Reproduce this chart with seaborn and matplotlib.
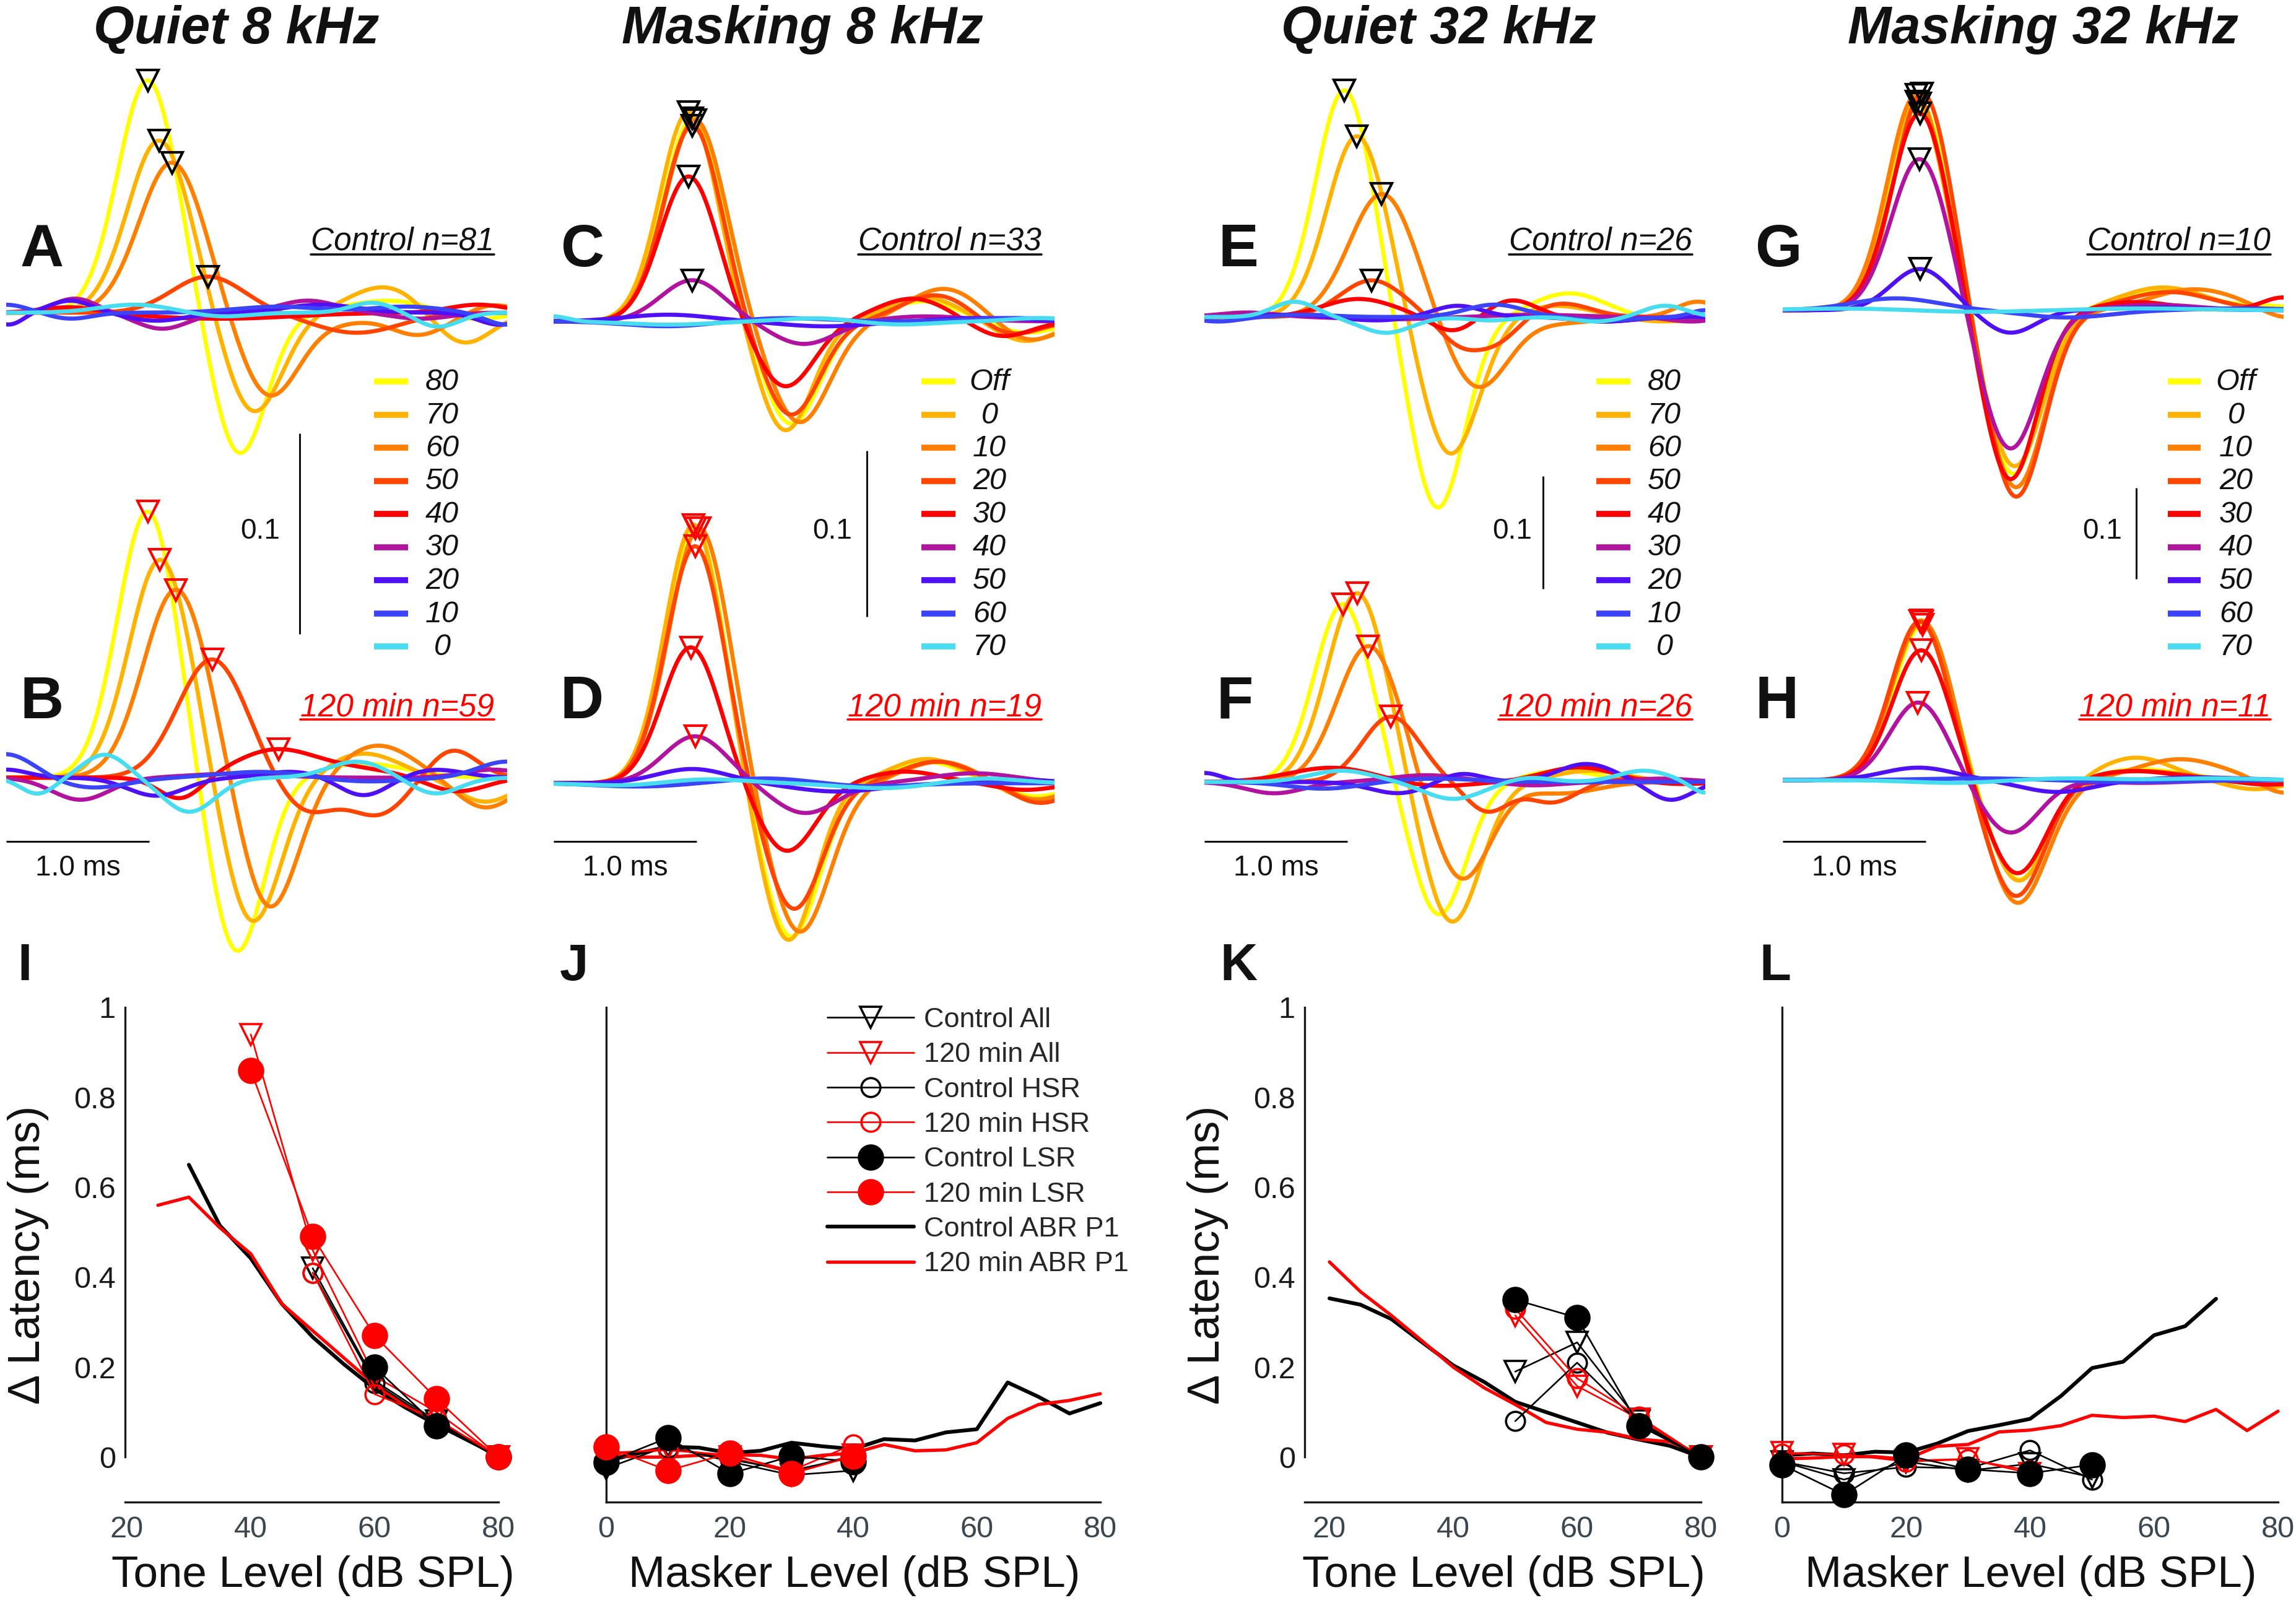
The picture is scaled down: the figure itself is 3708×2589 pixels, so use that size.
import numpy as np
import pandas as pd
import matplotlib
matplotlib.use("Agg")
import matplotlib.pyplot as plt
from matplotlib.lines import Line2D
import seaborn as sns

# ---------------- data ----------------
quiet_levels = ["80", "70", "60", "50", "40", "30", "20", "10", "0"]
mask_levels = ["Off", "0", "10", "20", "30", "40", "50", "60", "70"]
level_colors = ["#FFFF00", "#FFB300", "#FF7F00", "#FF4500", "#FF0000",
                "#B2139E", "#5010F5", "#3B44F6", "#48DCF0"]

col_titles = ["Quiet 8 kHz", "Masking 8 kHz", "Quiet 32 kHz", "Masking 32 kHz"]
n_control = [81, 33, 26, 10]
n_120min = [59, 19, 26, 11]
marked_control = [4, 6, 4, 7]
marked_120min = [5, 6, 4, 6]

# ABR waveform components per level: (latency ms, amplitude, width ms); first = P1
wave_A = [
    [(0.99, 0.116, 0.21), (1.63, -0.071, 0.19), (2.68, 0.006, 0.30), (3.25, -0.004, 0.2)],
    [(1.07, 0.086, 0.22), (1.73, -0.050, 0.20), (2.65, 0.013, 0.25), (3.19, -0.016, 0.2)],
    [(1.16, 0.075, 0.23), (1.84, -0.042, 0.21), (2.35, -0.004, 0.2), (2.88, -0.011, 0.2), (3.4, 0.004, 0.15)],
    [(1.41, 0.018, 0.25), (2.45, -0.010, 0.30)],
    [(0.45, 0.003, 0.2), (1.5, -0.003, 0.5), (3.3, 0.004, 0.2)],
    [(0.48, 0.007, 0.15), (1.09, -0.008, 0.18), (2.11, 0.006, 0.2), (2.9, -0.003, 0.2)],
    [(0.02, -0.006, 0.1), (0.45, 0.006, 0.15), (1.05, -0.004, 0.2), (2.2, 0.004, 0.25), (3.45, -0.006, 0.15)],
    [(0.0, 0.004, 0.15), (0.45, -0.003, 0.15), (1.9, 0.003, 0.3), (2.8, 0.003, 0.25), (3.5, -0.006, 0.15)],
    [(0.9, 0.004, 0.25), (1.5, -0.002, 0.2), (2.56, 0.005, 0.15), (3.02, -0.007, 0.15)],
]
wave_B = [
    [(0.99, 0.133, 0.21), (1.61, -0.088, 0.19), (2.5, 0.007, 0.3)],
    [(1.08, 0.109, 0.22), (1.72, -0.073, 0.20), (2.5, 0.012, 0.25), (3.35, -0.012, 0.2)],
    [(1.19, 0.094, 0.23), (1.84, -0.066, 0.20), (2.6, 0.016, 0.25), (3.35, -0.015, 0.2)],
    [(1.44, 0.059, 0.24), (2.1, -0.017, 0.2), (2.6, -0.018, 0.2), (3.12, 0.014, 0.17)],
    [(1.88, 0.0135, 0.28), (1.22, -0.011, 0.15), (2.45, 0.004, 0.3), (3.15, -0.007, 0.2)],
    [(0.52, -0.011, 0.2), (1.6, 0.002, 0.3), (3.4, 0.004, 0.2)],
    [(0.0, 0.004, 0.15), (1.05, -0.009, 0.2), (2.0, 0.003, 0.2), (2.5, -0.009, 0.17), (3.0, 0.004, 0.2)],
    [(0.0, 0.012, 0.2), (0.6, -0.005, 0.25), (1.8, 0.003, 0.3), (2.5, -0.002, 0.3), (3.5, 0.008, 0.2)],
    [(0.22, -0.008, 0.12), (0.69, 0.0115, 0.15), (1.28, -0.017, 0.18), (2.45, 0.008, 0.2), (3.0, -0.008, 0.17)],
]
wave_C = [
    [(0.97, 0.1225, 0.2), (1.66, -0.062, 0.2), (2.58, 0.012, 0.25), (3.3, -0.007, 0.2)],
    [(0.945, 0.1264, 0.2), (1.62, -0.066, 0.19), (2.58, 0.0146, 0.25), (3.3, -0.012, 0.2)],
    [(0.99, 0.1216, 0.21), (1.72, -0.061, 0.21), (2.73, 0.0197, 0.25), (3.32, -0.012, 0.2)],
    [(0.97, 0.118, 0.2), (1.66, -0.0565, 0.2), (2.68, 0.016, 0.25), (3.18, -0.009, 0.2)],
    [(0.945, 0.0874, 0.2), (1.62, -0.0394, 0.2), (2.51, 0.0137, 0.25), (3.13, -0.0094, 0.2)],
    [(0.97, 0.0248, 0.22), (1.75, -0.0137, 0.22), (2.6, 0.003, 0.3)],
    [(0.8, 0.004, 0.3), (1.9, -0.003, 0.3), (3.0, 0.002, 0.3)],
    [(0.8, -0.003, 0.3), (1.6, 0.002, 0.3), (3.2, 0.002, 0.3)],
    [(0.0, 0.003, 0.1), (0.8, -0.002, 0.3), (1.85, 0.002, 0.25), (2.4, -0.002, 0.25), (3.4, 0.002, 0.2)],
]
wave_D = [
    [(0.99, 0.154, 0.2), (1.66, -0.093, 0.2), (2.6, 0.013, 0.25), (3.37, -0.008, 0.2)],
    [(0.98, 0.156, 0.2), (1.64, -0.095, 0.19), (2.61, 0.0146, 0.25), (3.37, -0.01, 0.2)],
    [(1.02, 0.154, 0.21), (1.72, -0.090, 0.21), (2.70, 0.013, 0.25), (3.37, -0.01, 0.2)],
    [(0.99, 0.143, 0.2), (1.68, -0.076, 0.2), (2.68, 0.013, 0.25), (3.4, -0.012, 0.2)],
    [(0.96, 0.082, 0.2), (1.63, -0.041, 0.2), (2.46, 0.007, 0.25), (3.3, -0.004, 0.2)],
    [(0.99, 0.0283, 0.22), (1.76, -0.018, 0.22), (2.94, 0.006, 0.3)],
    [(0.97, 0.0086, 0.25), (1.99, -0.005, 0.3), (3.3, 0.002, 0.2)],
    [(0.6, -0.002, 0.3), (1.5, 0.003, 0.3), (2.2, -0.002, 0.3)],
    [(0.6, -0.002, 0.3), (1.0, 0.003, 0.3), (2.3, -0.003, 0.3), (3.0, 0.003, 0.25)],
]
wave_E = [
    [(0.98, 0.2016, 0.2), (1.63, -0.170, 0.19), (2.55, 0.021, 0.25), (3.3, -0.004, 0.2)],
    [(1.07, 0.161, 0.21), (1.72, -0.1226, 0.2), (2.45, 0.01, 0.25), (3.2, -0.004, 0.2)],
    [(1.245, 0.1095, 0.23), (1.91, -0.0633, 0.21), (2.5, -0.005, 0.25), (3.45, 0.0136, 0.15)],
    [(1.17, 0.0325, 0.22), (1.79, -0.023, 0.15), (2.05, -0.02, 0.15), (2.5, 0.012, 0.2)],
    [(1.08, 0.016, 0.25), (1.74, -0.013, 0.15), (2.15, 0.015, 0.17), (2.8, -0.004, 0.2)],
    [(0.3, 0.004, 0.2), (1.3, -0.002, 0.3), (2.3, 0.002, 0.3), (3.4, -0.004, 0.15)],
    [(0.6, 0.002, 0.2), (1.2, -0.003, 0.2), (1.77, 0.010, 0.17), (2.8, -0.004, 0.2)],
    [(0.1, -0.004, 0.15), (0.7, 0.002, 0.2), (2.03, 0.011, 0.2), (2.8, -0.003, 0.2), (3.5, 0.006, 0.1)],
    [(0.63, 0.0136, 0.15), (1.27, -0.014, 0.18), (2.0, -0.003, 0.15), (2.74, -0.004, 0.15), (3.22, 0.010, 0.15)],
]
wave_F = [
    [(0.97, 0.158, 0.2), (1.64, -0.118, 0.19), (2.5, 0.01, 0.25)],
    [(1.07, 0.168, 0.21), (1.73, -0.125, 0.2), (2.7, 0.01, 0.25)],
    [(1.15, 0.121, 0.22), (1.80, -0.087, 0.2), (2.5, -0.01, 0.25)],
    [(1.305, 0.058, 0.2), (1.98, -0.026, 0.15), (2.43, -0.018, 0.17), (3.0, 0.003, 0.2)],
    [(0.89, 0.0127, 0.3), (1.6, -0.004, 0.25), (2.62, 0.013, 0.25), (3.3, -0.002, 0.2)],
    [(0.49, -0.01, 0.2), (1.55, 0.006, 0.25), (2.3, -0.003, 0.2), (3.2, 0.003, 0.2)],
    [(0.0, 0.008, 0.12), (1.36, -0.010, 0.2), (1.79, 0.008, 0.15), (2.67, 0.016, 0.2), (3.26, -0.016, 0.15)],
    [(0.84, -0.006, 0.25), (1.6, 0.003, 0.3), (2.5, 0.0, 0.3)],
    [(0.96, 0.010, 0.22), (1.74, -0.015, 0.2), (2.27, 0.004, 0.15), (3.07, 0.010, 0.18), (3.5, -0.01, 0.1)],
]
wave_G = [
    [(0.96, 0.228, 0.2), (1.61, -0.181, 0.19), (2.66, 0.022, 0.3), (3.4, 0.004, 0.2)],
    [(0.935, 0.2295, 0.2), (1.62, -0.172, 0.2), (2.66, 0.025, 0.3)],
    [(0.935, 0.237, 0.2), (1.63, -0.195, 0.2), (2.88, 0.023, 0.3), (3.5, -0.01, 0.15)],
    [(0.98, 0.239, 0.2), (1.63, -0.206, 0.2), (2.7, 0.02, 0.3)],
    [(0.96, 0.217, 0.2), (1.59, -0.187, 0.19), (2.47, 0.009, 0.25), (3.5, 0.014, 0.15)],
    [(0.96, 0.167, 0.2), (1.59, -0.153, 0.2), (2.6, 0.006, 0.3)],
    [(0.96, 0.0453, 0.2), (1.59, -0.025, 0.18), (2.6, 0.003, 0.3)],
    [(0.79, 0.013, 0.3), (1.99, -0.008, 0.3), (3.2, 0.002, 0.3)],
    [(0.5, 0.002, 0.4), (1.3, -0.002, 0.4), (2.5, 0.002, 0.4)],
]
wave_H = [
    [(0.98, 0.171, 0.2), (1.65, -0.110, 0.2), (2.5, 0.012, 0.3)],
    [(0.97, 0.176, 0.2), (1.65, -0.111, 0.2), (2.47, 0.0247, 0.25), (3.3, -0.01, 0.2)],
    [(0.98, 0.175, 0.21), (1.64, -0.136, 0.21), (2.78, 0.023, 0.3), (3.5, -0.015, 0.15)],
    [(0.96, 0.175, 0.2), (1.63, -0.128, 0.2), (2.5, 0.01, 0.3)],
    [(0.97, 0.143, 0.2), (1.64, -0.103, 0.2), (2.45, 0.01, 0.3), (3.4, -0.005, 0.2)],
    [(0.95, 0.0856, 0.2), (1.59, -0.058, 0.2), (2.5, -0.003, 0.3)],
    [(0.95, 0.0137, 0.25), (1.92, -0.013, 0.25), (2.9, 0.003, 0.3)],
    [(1.4, 0.002, 0.4), (2.4, -0.002, 0.4)],
    [(1.2, -0.003, 0.3), (2.0, 0.002, 0.3), (3.0, 0.002, 0.3)],
]

# delta latency panels (ms) vs level (dB SPL)
I_abr_ctrl_x = [30, 35, 40, 45, 50, 55, 60, 65, 70, 75, 80]
I_abr_ctrl = [0.65, 0.515, 0.442, 0.341, 0.267, 0.207, 0.152, 0.11, 0.072, 0.04, 0.0]
I_abr_120_x = [25, 30, 35, 40, 45, 50, 55, 60, 65, 70, 75, 80]
I_abr_120 = [0.56, 0.578, 0.51, 0.452, 0.341, 0.281, 0.221, 0.161, 0.115, 0.08, 0.04, 0.0]
I_x_ctrl = [50, 60, 70, 80]
I_ctrl_all = [0.42, 0.17, 0.08, 0.0]
I_ctrl_hsr = [0.41, 0.165, 0.075, 0.0]
I_x_ctrl_lsr = [60, 70, 80]
I_ctrl_lsr = [0.20, 0.07, 0.0]
I_x_120 = [40, 50, 60, 70, 80]
I_120_all = [0.94, 0.46, 0.18, 0.10, 0.0]
I_x_120_hsr = [50, 60, 70, 80]
I_120_hsr = [0.41, 0.14, 0.085, 0.0]
I_120_lsr = [0.86, 0.49, 0.27, 0.13, 0.0]

J_abr_x = [0, 5, 10, 15, 20, 25, 30, 35, 40, 45, 50, 55, 60, 65, 70, 75, 80]
J_abr_ctrl = [-0.009, 0.008, 0.023, 0.021, 0.009, 0.014, 0.032, 0.024, 0.018, 0.04,
              0.037, 0.055, 0.062, 0.166, 0.134, 0.097, 0.12]
J_abr_120 = [0.005, 0.0, 0.0, 0.004, 0.005, 0.004, -0.005, 0.004, 0.009, 0.028,
             0.014, 0.016, 0.032, 0.086, 0.117, 0.126, 0.141]
J_x = [0, 10, 20, 30, 40]
J_ctrl_all = [-0.025, 0.025, -0.01, -0.04, -0.03]
J_ctrl_hsr = [-0.005, 0.02, -0.005, -0.03, 0.0]
J_ctrl_lsr = [-0.012, 0.043, -0.037, 0.002, -0.01]
J_120_all = [0.005, 0.02, 0.0, -0.035, 0.005]
J_120_hsr = [0.01, 0.015, 0.005, -0.03, 0.028]
J_120_lsr = [0.023, -0.03, 0.009, -0.037, 0.002]

K_abr_x = [20, 25, 30, 35, 40, 45, 50, 55, 60, 65, 70, 75, 80]
K_abr_ctrl = [0.353, 0.339, 0.307, 0.255, 0.204, 0.167, 0.123, 0.10, 0.077, 0.054, 0.039, 0.025, 0.0]
K_abr_120 = [0.434, 0.368, 0.315, 0.258, 0.2, 0.154, 0.117, 0.077, 0.062, 0.055, 0.040, 0.034, 0.006]
K_x = [50, 60, 70, 80]
K_ctrl_all = [0.19, 0.255, 0.08, 0.0]
K_ctrl_hsr = [0.08, 0.21, 0.075, 0.0]
K_ctrl_lsr = [0.35, 0.31, 0.07, 0.0]
K_120_all = [0.315, 0.158, 0.085, 0.0]
K_120_hsr = [0.33, 0.175, 0.09, 0.0]

L_abr_ctrl_x = [0, 5, 10, 15, 20, 25, 30, 35, 40, 45, 50, 55, 60, 65, 70]
L_abr_ctrl = [0.004, 0.008, 0.004, 0.012, 0.01, 0.03, 0.058, 0.071, 0.085, 0.136,
              0.198, 0.212, 0.271, 0.291, 0.352]
L_abr_120_x = [0, 5, 10, 15, 20, 25, 30, 35, 40, 45, 50, 55, 60, 65, 70, 75, 80]
L_abr_120 = [-0.004, -0.002, 0.001, 0.001, -0.005, 0.024, 0.028, 0.056, 0.06, 0.07,
             0.093, 0.088, 0.091, 0.079, 0.106, 0.059, 0.102]
L_x_ctrl = [0, 10, 20, 30, 40, 50]
L_ctrl_all = [-0.01, -0.05, -0.01, -0.03, -0.015, -0.045]
L_ctrl_hsr = [-0.01, -0.036, -0.022, -0.025, 0.015, -0.05]
L_ctrl_lsr = [-0.017, -0.084, 0.004, -0.027, -0.036, -0.017]
L_x_120 = [0, 10, 20, 30, 40]
L_120_all = [0.01, 0.006, -0.008, -0.004, -0.036]
L_120_hsr = [0.008, 0.006, -0.01, -0.005, -0.03]

# ---------------- layout (figure pixels) ----------------
W, H = 3708, 2589
MS_PX = 231.0                      # pixels per ms
col_x0 = [10, 894, 1945, 2879]
col_ppu = [3240, 2680, 1820, 1470]  # pixels per amplitude unit
base_ctrl = [505, 519, 512, 501]
base_120 = [1256, 1265, 1263, 1260]
sbar_x = [484, 1400, 2492, 3450]
sbar_top = [700, 728, 769, 788]
sbar_gap = [32, 24, 18, 23]
leg_line = [(594, 649), (594, 649), (633, 688), (622, 675)]
leg_text = [704, 704, 743, 732]
title_x = [382, 1296, 2323, 3299]
letter_top = [("A", 68), ("C", 941), ("E", 2000), ("G", 2873)]
letter_bot = [("B", 68), ("D", 940), ("F", 1994), ("H", 2870)]


def fx(x):
    return x / W


def fy(y):
    return 1 - y / H


sns.set_style("white")
plt.rcParams["font.family"] = ["Liberation Sans", "DejaVu Sans"]

fig = plt.figure(figsize=(W / 100, H / 100), dpi=100)
renderer = fig.canvas.get_renderer()

t = np.linspace(0, 3.5, 701)


def waveform(bumps):
    return sum(a * np.exp(-0.5 * ((t - mu) / s) ** 2) for mu, a, s in bumps)


def underlined(x, y, s, color, uy):
    txt = fig.text(fx(x), fy(y), s, ha="right", va="baseline", style="italic",
                   fontsize=37, color=color)
    bb = txt.get_window_extent(renderer=renderer)
    fig.add_artist(Line2D([bb.x0 / W, bb.x1 / W], [fy(uy), fy(uy)],
                          transform=fig.transFigure, color=color, lw=2.6))


waves = [(wave_A, wave_B), (wave_C, wave_D), (wave_E, wave_F), (wave_G, wave_H)]
top_px, bot_px = 60, 1580

for k in range(4):
    x0, ppu = col_x0[k], col_ppu[k]
    levels = quiet_levels if k % 2 == 0 else mask_levels
    ax = fig.add_axes([fx(x0), fy(bot_px), 3.5 * MS_PX / W, (bot_px - top_px) / H])
    ax.set_xlim(0, 3.5)
    ax.set_ylim((base_120[k] - bot_px) / ppu, (base_120[k] - top_px) / ppu)
    ax.axis("off")
    offset = (base_120[k] - base_ctrl[k]) / ppu

    frames = []
    for grp, wset, off in [("ctrl", waves[k][0], offset), ("120", waves[k][1], 0.0)]:
        for lev, bumps in zip(levels, wset):
            frames.append(pd.DataFrame({"t": t, "amp": waveform(bumps) + off,
                                        "level": lev, "group": grp}))
    df = pd.concat(frames, ignore_index=True)
    sns.lineplot(data=df, x="t", y="amp", hue="level", hue_order=levels,
                 palette=level_colors, units="group", estimator=None, sort=False,
                 lw=4.8, legend=False, ax=ax)

    # peak markers
    for wset, off, nmark, ec in [(waves[k][0], offset, marked_control[k], "black"),
                                 (waves[k][1], 0.0, marked_120min[k], "red")]:
        for bumps in wset[:nmark]:
            y = waveform(bumps)
            win = np.abs(t - bumps[0][0]) < 0.15
            i = np.argmax(np.where(win, y, -np.inf))
            ax.plot(t[i], y[i] + off, marker="v", ms=25, mfc="none", mec=ec,
                    mew=3.0, zorder=10, clip_on=False)

    # scale bars
    xb = (sbar_x[k] - x0) / MS_PX
    yb = (base_120[k] - sbar_top[k]) / ppu
    ax.plot([xb, xb], [yb, yb - 0.1], color="#111111", lw=2.2, solid_capstyle="butt")
    fig.text(fx(sbar_x[k] - sbar_gap[k]), fy(870), "0.1", ha="right", va="baseline",
             fontsize=33, color="#111111")
    ytb = (base_120[k] - 1359) / ppu
    ax.plot([0, 1.0], [ytb, ytb], color="#111111", lw=2.2, solid_capstyle="butt")
    fig.text(fx(x0 + 0.5 * MS_PX), fy(1414), "1.0 ms", ha="center", va="baseline",
             fontsize=33, color="#111111")

    # level legend
    for i, (lev, col) in enumerate(zip(levels, level_colors)):
        yy = 616 + 53.5 * i
        fig.add_artist(Line2D([fx(x0 + leg_line[k][0]), fx(x0 + leg_line[k][1])],
                              [fy(yy), fy(yy)], transform=fig.transFigure,
                              color=col, lw=7, solid_capstyle="butt"))
        fig.text(fx(x0 + leg_text[k]), fy(yy + 14), lev, ha="center", va="baseline",
                 style="italic", fontsize=35, color="#111111")

    underlined(x0 + 788, 404, f"Control n={n_control[k]}", "#111111", 411)
    underlined(x0 + 788, 1156, f"120 min n={n_120min[k]}", "red", 1162)

    fig.text(fx(title_x[k]), fy(70), col_titles[k], ha="center", va="baseline",
             fontsize=61, fontweight="bold", style="italic", color="#111111")
    fig.text(fx(letter_top[k][1]), fy(430), letter_top[k][0], ha="center",
             va="baseline", fontsize=70, fontweight="bold", color="#111111")
    fig.text(fx(letter_bot[k][1]), fy(1160), letter_bot[k][0], ha="center",
             va="baseline", fontsize=70, fontweight="bold", color="#111111")

# ---------------- delta latency panels ----------------
styles = {
    "Control All": dict(color="black", marker="v", mfc="none", ms=24),
    "120 min All": dict(color="red", marker="v", mfc="none", ms=24),
    "Control HSR": dict(color="black", marker="o", mfc="none", ms=22),
    "120 min HSR": dict(color="red", marker="o", mfc="none", ms=22),
    "Control LSR": dict(color="black", marker="o", mfc="black", ms=28),
    "120 min LSR": dict(color="red", marker="o", mfc="red", ms=28),
}

panels = [
    dict(letter="I", left=202, width=606, xlim=(19.7, 80.3), xt=[20, 40, 60, 80],
         lx=40, xlabel="Tone Level (dB SPL)", ylab=True,
         abr=[(I_abr_ctrl_x, I_abr_ctrl), (I_abr_120_x, I_abr_120)],
         series={"Control All": (I_x_ctrl, I_ctrl_all), "120 min All": (I_x_120, I_120_all),
                 "Control HSR": (I_x_ctrl, I_ctrl_hsr), "120 min HSR": (I_x_120_hsr, I_120_hsr),
                 "Control LSR": (I_x_ctrl_lsr, I_ctrl_lsr), "120 min LSR": (I_x_120, I_120_lsr)}),
    dict(letter="J", left=979, width=801, xlim=(0, 80.3), xt=[0, 20, 40, 60, 80],
         lx=927, xlabel="Masker Level (dB SPL)", ylab=False,
         abr=[(J_abr_x, J_abr_ctrl), (J_abr_x, J_abr_120)],
         series={"Control All": (J_x, J_ctrl_all), "120 min All": (J_x, J_120_all),
                 "Control HSR": (J_x, J_ctrl_hsr), "120 min HSR": (J_x, J_120_hsr),
                 "Control LSR": (J_x, J_ctrl_lsr), "120 min LSR": (J_x, J_120_lsr)}),
    dict(letter="K", left=2107, width=643, xlim=(16, 80.3), xt=[20, 40, 60, 80],
         lx=2000, xlabel="Tone Level (dB SPL)", ylab=True,
         abr=[(K_abr_x, K_abr_ctrl), (K_abr_x, K_abr_120)],
         series={"Control All": (K_x, K_ctrl_all), "120 min All": (K_x, K_120_all),
                 "Control HSR": (K_x, K_ctrl_hsr), "120 min HSR": (K_x, K_120_hsr),
                 "Control LSR": (K_x, K_ctrl_lsr)}),
    dict(letter="L", left=2878, width=804, xlim=(0, 80.3), xt=[0, 20, 40, 60, 80],
         lx=2867, xlabel="Masker Level (dB SPL)", ylab=False,
         abr=[(L_abr_ctrl_x, L_abr_ctrl), (L_abr_120_x, L_abr_120)],
         series={"Control All": (L_x_ctrl, L_ctrl_all), "120 min All": (L_x_120, L_120_all),
                 "Control HSR": (L_x_ctrl, L_ctrl_hsr), "120 min HSR": (L_x_120, L_120_hsr),
                 "Control LSR": (L_x_ctrl, L_ctrl_lsr)}),
]

ax_top, ax_bot = 1627, 2426
for p in panels:
    ax = fig.add_axes([fx(p["left"]), fy(ax_bot), p["width"] / W, (ax_bot - ax_top) / H])
    ax.set_xlim(*p["xlim"])
    ax.set_ylim(-0.1, 1.0)
    (cx, cy), (rx, ry) = p["abr"]
    sns.lineplot(x=cx, y=cy, color="black", lw=4.4, ax=ax, zorder=2)
    sns.lineplot(x=rx, y=ry, color="red", lw=3.8, ax=ax, zorder=2)
    handles = {}
    for name, (xs, ys) in p["series"].items():
        st = styles[name]
        (ln,) = ax.plot(xs, ys, color=st["color"], lw=1.9, marker=st["marker"],
                        ms=st["ms"], mfc=st["mfc"], mec=st["color"], mew=2.6,
                        clip_on=False, zorder=4)
        handles[name] = ln

    for s in ["top", "right"]:
        ax.spines[s].set_visible(False)
    for s in ["left", "bottom"]:
        ax.spines[s].set_linewidth(2.4)
        ax.spines[s].set_color("#1a1a1a")
    ax.spines["bottom"].set_bounds(p["xlim"][0], 80)
    ax.spines["left"].set_bounds(0 if p["ylab"] else -0.1, 1.0)
    ax.set_xticks(p["xt"])
    ax.set_yticks([0, 0.2, 0.4, 0.6, 0.8, 1.0])
    ax.tick_params(direction="out", length=8, width=2.4, colors="#1a1a1a")
    ax.tick_params(axis="x", labelsize=35, labelcolor="#3c464e", pad=8)
    ax.tick_params(axis="y", labelsize=35, labelcolor="#1a1a1a", pad=3)
    if p["ylab"]:
        ax.set_yticklabels(["0", "0.2", "0.4", "0.6", "0.8", "1"])
    else:
        ax.set_yticklabels([])
    ax.set_xlabel("")
    ax.set_ylabel("")
    ax.grid(False)

    cxp = p["left"] + p["width"] / 2
    fig.text(fx(cxp), fy(2563), p["xlabel"], ha="center", va="baseline",
             fontsize=51, color="#111111")
    if p["ylab"]:
        fig.text(fx(p["left"] - 156), fy(2027), "\u0394 Latency (ms)", rotation=90,
                 ha="center", va="center", fontsize=52, color="#111111")
    fig.text(fx(p["lx"]), fy(1583), p["letter"], ha="center", va="baseline",
             fontsize=60, fontweight="bold", color="#111111")

    if p["letter"] == "J":
        order = ["Control All", "120 min All", "Control HSR", "120 min HSR",
                 "Control LSR", "120 min LSR"]
        hs = [handles[n] for n in order]
        hs += [Line2D([], [], color="black", lw=4.4), Line2D([], [], color="red", lw=3.8)]
        labels = order + ["Control ABR P1", "120 min ABR P1"]
        ax.legend(hs, labels, loc="upper left", bbox_to_anchor=(fx(1336), fy(1627)),
                  bbox_transform=fig.transFigure, frameon=False, fontsize=32.5,
                  handlelength=3.1, handletextpad=0.35, labelspacing=0.34,
                  borderpad=0, borderaxespad=0, numpoints=1)

fig.savefig("out.png", dpi=100)
